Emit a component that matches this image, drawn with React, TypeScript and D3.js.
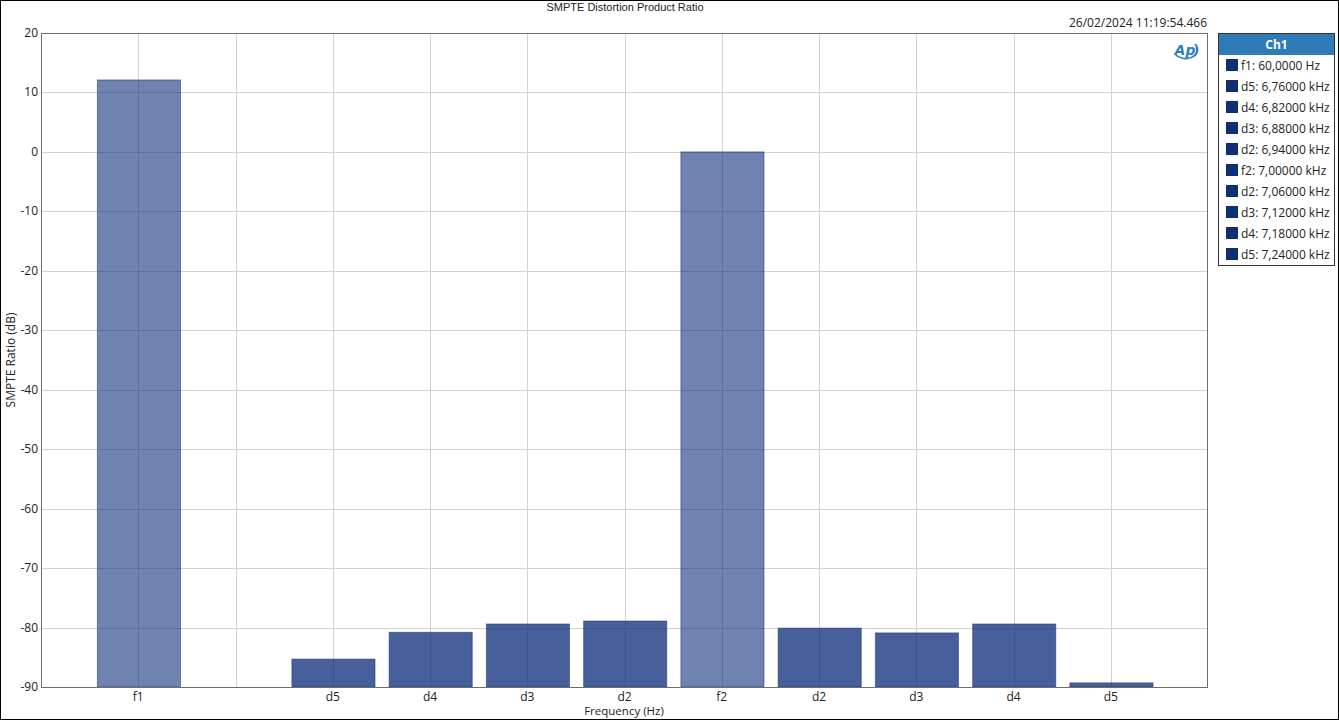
import React from "react";
import * as d3 from "d3";

const categories = ["f1", "", "d5", "d4", "d3", "d2", "f2", "d2", "d3", "d4", "d5"];
const values: (number | null)[] = [12.1, null, -85.3, -80.8, -79.4, -78.9, 0, -80.1, -80.9, -79.4, -89.3];
const isFundamental = [true, false, false, false, false, false, true, false, false, false, false];
const yTicks = [20, 10, 0, -10, -20, -30, -40, -50, -60, -70, -80, -90];
const legendLabels = [
  "f1: 60,0000 Hz",
  "d5: 6,76000 kHz",
  "d4: 6,82000 kHz",
  "d3: 6,88000 kHz",
  "d2: 6,94000 kHz",
  "f2: 7,00000 kHz",
  "d2: 7,06000 kHz",
  "d3: 7,12000 kHz",
  "d4: 7,18000 kHz",
  "d5: 7,24000 kHz",
];

const W = 1339;
const H = 720;
const left = 41;
const right = 1208;
const top = 33;
const bottom = 687;
const font = "'Open Sans', 'Noto Sans', sans-serif";

export default function App() {
  const x = d3.scaleLinear().domain([0, 12]).range([left, right]);
  const y = d3.scaleLinear().domain([-90, 20]).range([bottom, top]);
  const slot = x(1) - x(0);
  const bw = slot * 0.855;
  const idx = d3.range(categories.length);

  return (
    <svg
      width={W}
      height={H}
      style={{ position: "fixed", left: 0, top: 0, background: "#fff" }}
      fontFamily={font}
    >
      <rect x={0.5} y={0.5} width={W - 1} height={H - 1} fill="#fff" stroke="#000" strokeWidth={1} />
      <text x={625} y={11} textAnchor="middle" fontSize={11} fontFamily="'Liberation Sans', Arial, sans-serif" fill="#222">
        SMPTE Distortion Product Ratio
      </text>
      <text x={1207} y={27} textAnchor="end" fontSize={12} fill="#222">
        26/02/2024 11:19:54.466
      </text>

      {/* grid */}
      {yTicks.map((t) => (
        <line key={"gy" + t} x1={left} x2={right} y1={Math.round(y(t)) + 0.5} y2={Math.round(y(t)) + 0.5} stroke="#d2d2d2" />
      ))}
      {idx.map((i) => (
        <line key={"gx" + i} x1={Math.round(x(i + 1)) + 0.5} x2={Math.round(x(i + 1)) + 0.5} y1={top} y2={bottom} stroke="#d2d2d2" />
      ))}

      {/* bars */}
      {idx.map((i) => {
        const v = values[i];
        if (v === null) return null;
        const cx = x(i + 1) + 0.7;
        const y0 = y(v);
        return (
          <rect
            key={"b" + i}
            x={cx - bw / 2}
            y={y0}
            width={bw}
            height={bottom - y0}
            fill="#0a2a78"
            fillOpacity={isFundamental[i] ? 0.59 : 0.75}
            stroke="#1a2f6a"
            strokeOpacity={0.5}
            strokeWidth={1}
          />
        );
      })}

      {/* plot frame */}
      <rect x={left + 0.5} y={top + 0.5} width={right - left - 1} height={bottom - top} fill="none" stroke="#6e6e6e" />

      {/* y ticks */}
      {yTicks.map((t) => (
        <text key={"yt" + t} x={38} y={y(t) + 4} textAnchor="end" fontSize={12} fill="#222">
          {t}
        </text>
      ))}
      {/* x ticks */}
      {idx.map((i) =>
        categories[i] ? (
          <text key={"xt" + i} x={x(i + 1)} y={701} textAnchor="middle" fontSize={12} fill="#222">
            {categories[i]}
          </text>
        ) : null
      )}
      <text x={624} y={715} textAnchor="middle" fontSize={11.5} fill="#222">
        Frequency (Hz)
      </text>
      <text transform={`translate(15,${(top + bottom) / 2}) rotate(-90)`} textAnchor="middle" fontSize={12} fill="#222">
        SMPTE Ratio (dB)
      </text>

      {/* AP logo */}
      <g transform="translate(1186,50)">
        <path d="M -11 4 A 12 9 0 0 0 10 -5" fill="none" stroke="#2d7fc1" strokeWidth={1.6} />
        <path d="M 9 -6 A 4 7 0 0 1 9 6" fill="none" stroke="#2d7fc1" strokeWidth={1.6} />
        <text x={-1} y={5} textAnchor="middle" fontSize={14} fontWeight="bold" fontStyle="italic" fill="#2d7fc1" fontFamily="'DejaVu Sans', sans-serif">
          Ap
        </text>
      </g>

      {/* legend */}
      <g>
        <rect x={1218.5} y={33.5} width={116} height={232} fill="#fff" stroke="#333" />
        <rect x={1219} y={34} width={115} height={21} fill="#2f7bb7" />
        <text x={1276.5} y={49} textAnchor="middle" fontSize={12} fontWeight="bold" fill="#fff">
          Ch1
        </text>
        {legendLabels.map((l, i) => (
          <g key={"lg" + i} transform={`translate(0,${65 + i * 21})`}>
            <rect x={1226} y={-6} width={12} height={12} fill="#0f2e74" />
            <text x={1241} y={4.5} fontSize={12} fill="#222">
              {l}
            </text>
          </g>
        ))}
      </g>
    </svg>
  );
}
